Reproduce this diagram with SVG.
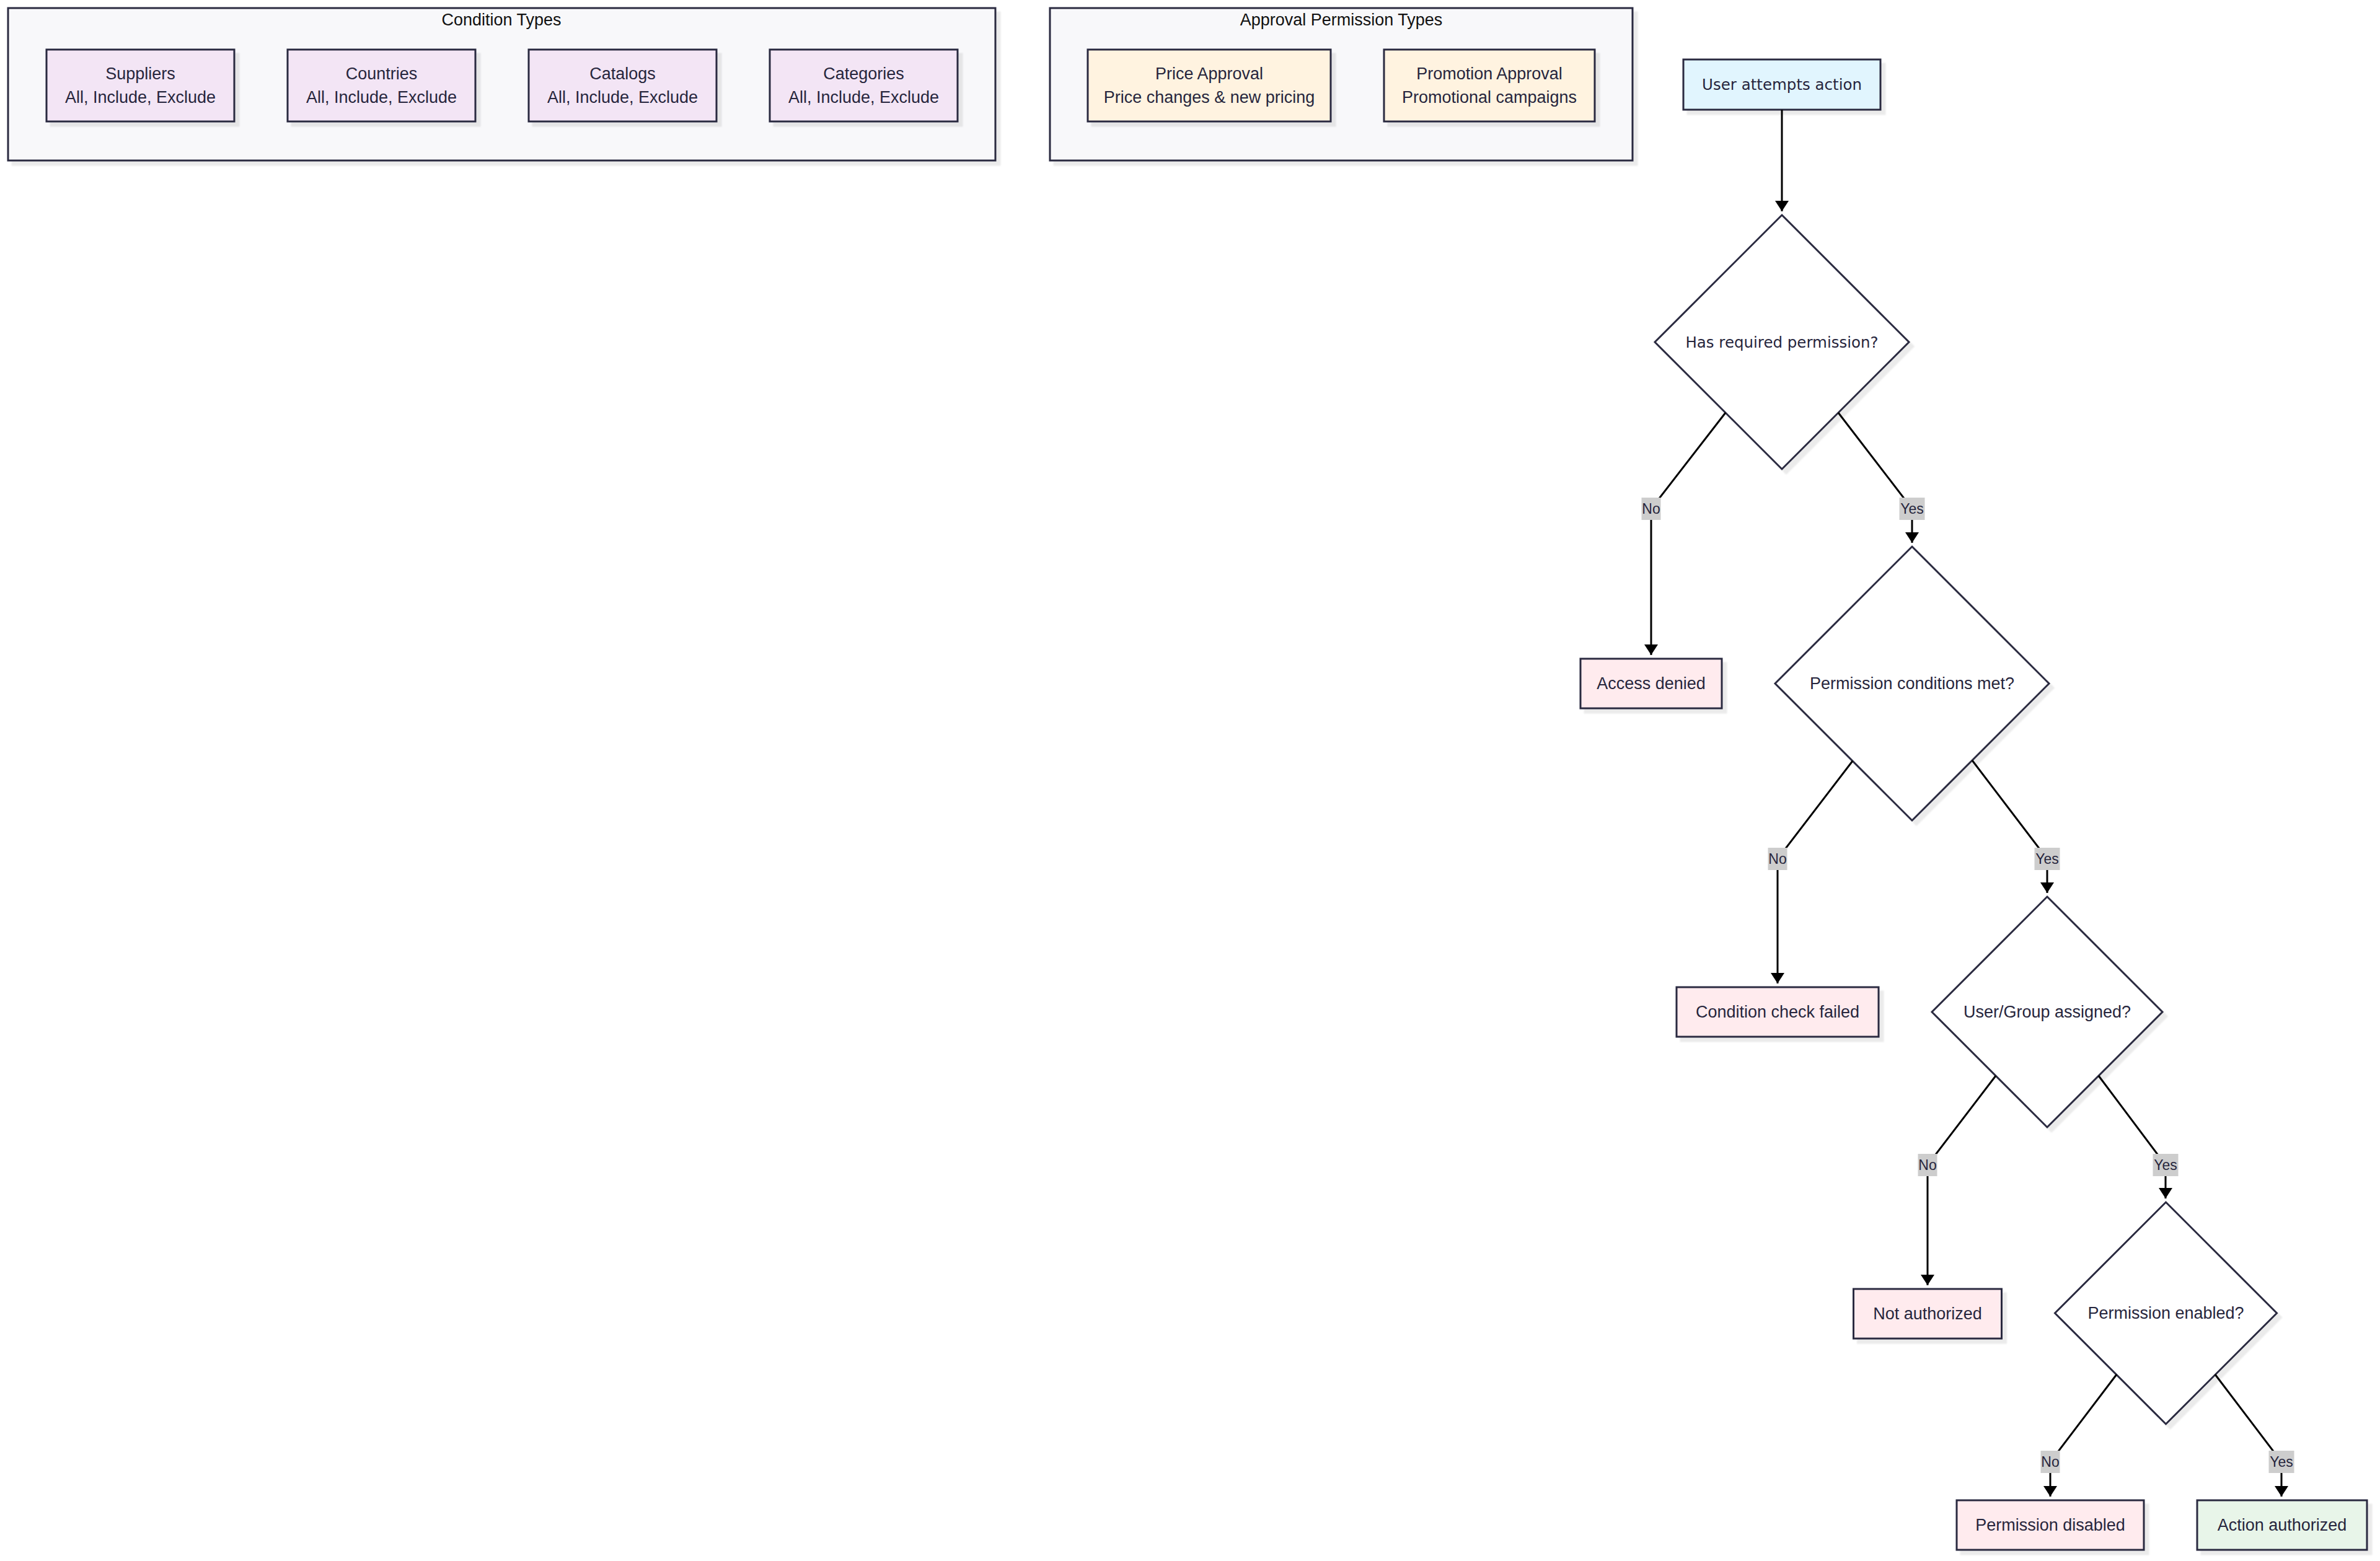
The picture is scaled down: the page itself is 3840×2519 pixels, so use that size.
<svg xmlns="http://www.w3.org/2000/svg" width="3840" height="2519" viewBox="0 0 3840 2519">
<style>
.bg{fill:#ffffff}
.cluster{fill:#f8f8fa;stroke:#2b2b40;stroke-width:3}
.box{stroke:#2b2b40;stroke-width:3}
.dia{fill:#ffffff;stroke:#2b2b40;stroke-width:3}
.cond{fill:#f3e5f5}
.appr{fill:#fff3e0}
.start{fill:#e1f5fe}
.deny{fill:#ffebee}
.ok{fill:#e8f5e9}
.sh{filter:url(#shadow)}
text{font-family:"Liberation Sans",Arial,sans-serif;font-size:27px;fill:#27263d;text-anchor:middle;dominant-baseline:central}
.title{fill:#111111}
.wide{font-family:"DejaVu Sans",Verdana,sans-serif;font-size:24.5px}
.edge{fill:none;stroke:#000000;stroke-width:3;marker-end:url(#arr)}
.lbl{fill:#cdcdcd}
.lt{font-size:23px}
</style>
<defs>
<filter id="shadow" x="-10%" y="-10%" width="130%" height="130%">
<feDropShadow dx="7" dy="7" stdDeviation="1" flood-color="#000000" flood-opacity="0.08"/>
</filter>
<marker id="arr" markerUnits="userSpaceOnUse" markerWidth="17" markerHeight="22" viewBox="0 0 17 22" refX="17" refY="11" orient="auto">
<path d="M0,0 L17,11 L0,22 z" fill="#000000"/>
</marker>
</defs>
<rect class="bg" x="0" y="0" width="3840" height="2519"/>

<g id="cluster-conditions">
<rect class="cluster sh" x="13" y="13" width="1593" height="246"/>
<text class="title" x="809" y="32">Condition Types</text>
</g>
<g id="cluster-approval">
<rect class="cluster sh" x="1694" y="13" width="940" height="246"/>
<text class="title" x="2164" y="32">Approval Permission Types</text>
</g>

<g id="node-suppliers">
<rect class="box cond sh" x="75" y="80" width="303" height="116"/>
<text x="226.5" y="119">Suppliers</text>
<text x="226.5" y="157">All, Include, Exclude</text>
</g>
<g id="node-countries">
<rect class="box cond sh" x="464" y="80" width="303" height="116"/>
<text x="615.5" y="119">Countries</text>
<text x="615.5" y="157">All, Include, Exclude</text>
</g>
<g id="node-catalogs">
<rect class="box cond sh" x="853" y="80" width="303" height="116"/>
<text x="1004.5" y="119">Catalogs</text>
<text x="1004.5" y="157">All, Include, Exclude</text>
</g>
<g id="node-categories">
<rect class="box cond sh" x="1242" y="80" width="303" height="116"/>
<text x="1393.5" y="119">Categories</text>
<text x="1393.5" y="157">All, Include, Exclude</text>
</g>
<g id="node-price">
<rect class="box appr sh" x="1755" y="80" width="392" height="116"/>
<text x="1951" y="119">Price Approval</text>
<text x="1951" y="157">Price changes &amp; new pricing</text>
</g>
<g id="node-promotion">
<rect class="box appr sh" x="2233" y="80" width="340" height="116"/>
<text x="2403" y="119">Promotion Approval</text>
<text x="2403" y="157">Promotional campaigns</text>
</g>

<g id="node-start">
<rect class="box start sh" x="2716" y="96" width="318" height="81"/>
<text class="wide" x="2875" y="136.5">User attempts action</text>
</g>
<g id="node-has-permission">
<polygon class="dia sh" points="2875,347 3080,552 2875,757 2670,552"/>
<text class="wide" x="2875" y="552">Has required permission?</text>
</g>
<g id="node-access-denied">
<rect class="box deny sh" x="2550" y="1063" width="228" height="80"/>
<text x="2664" y="1103">Access denied</text>
</g>
<g id="node-conditions-met">
<polygon class="dia sh" points="3085,882 3306,1103 3085,1324 2864,1103"/>
<text x="3085" y="1103">Permission conditions met?</text>
</g>
<g id="node-condition-failed">
<rect class="box deny sh" x="2705" y="1593" width="326" height="80"/>
<text x="2868" y="1633">Condition check failed</text>
</g>
<g id="node-assigned">
<polygon class="dia sh" points="3303,1447 3489,1633 3303,1819 3117,1633"/>
<text x="3303" y="1633">User/Group assigned?</text>
</g>
<g id="node-not-authorized">
<rect class="box deny sh" x="2990.5" y="2080" width="239" height="80"/>
<text x="3110" y="2120">Not authorized</text>
</g>
<g id="node-enabled">
<polygon class="dia sh" points="3494.5,1940 3673.5,2119 3494.5,2298 3315.5,2119"/>
<text x="3494.5" y="2119">Permission enabled?</text>
</g>
<g id="node-disabled">
<rect class="box deny sh" x="3157" y="2421" width="302" height="80"/>
<text x="3308" y="2461">Permission disabled</text>
</g>
<g id="node-authorized">
<rect class="box ok sh" x="3545" y="2421" width="274" height="80"/>
<text x="3682" y="2461">Action authorized</text>
</g>

<g id="connectors">
<path class="edge" d="M2875,177 L2875,341"/>
<path class="edge" d="M2784,666 L2664,821 L2664,1057"/>
<path class="edge" d="M2966,666 L3085,821 L3085,876"/>
<path class="edge" d="M2989,1228 L2868,1386 L2868,1587"/>
<path class="edge" d="M3182,1227 L3303,1386 L3303,1441"/>
<path class="edge" d="M3220,1736 L3110,1880 L3110,2074"/>
<path class="edge" d="M3386,1736 L3494,1880 L3494,1934"/>
<path class="edge" d="M3415,2218 L3308,2359 L3308,2415"/>
<path class="edge" d="M3574,2218 L3681,2359 L3681,2415"/>
<g id="edge-labels">
<rect class="lbl" x="2648.5" y="803" width="31" height="36"/>
<text class="lt" x="2664" y="821">No</text>
<rect class="lbl" x="3064.5" y="803" width="41" height="36"/>
<text class="lt" x="3085" y="821">Yes</text>
<rect class="lbl" x="2852.5" y="1368" width="31" height="36"/>
<text class="lt" x="2868" y="1386">No</text>
<rect class="lbl" x="3282.5" y="1368" width="41" height="36"/>
<text class="lt" x="3303" y="1386">Yes</text>
<rect class="lbl" x="3094.5" y="1862" width="31" height="36"/>
<text class="lt" x="3110" y="1880">No</text>
<rect class="lbl" x="3473.5" y="1862" width="41" height="36"/>
<text class="lt" x="3494" y="1880">Yes</text>
<rect class="lbl" x="3292.5" y="2341" width="31" height="36"/>
<text class="lt" x="3308" y="2359">No</text>
<rect class="lbl" x="3660.5" y="2341" width="41" height="36"/>
<text class="lt" x="3681" y="2359">Yes</text>
</g>
</g>
</svg>
